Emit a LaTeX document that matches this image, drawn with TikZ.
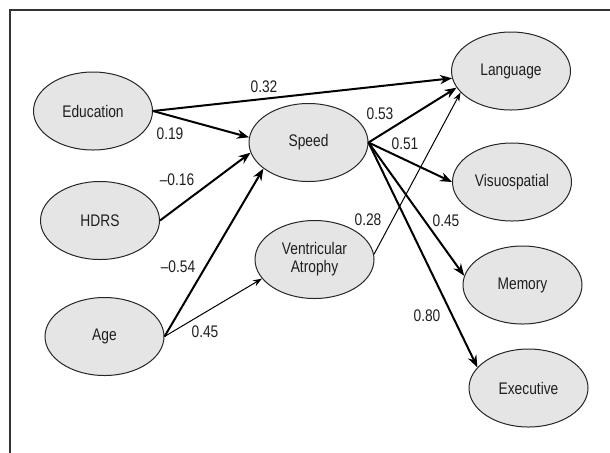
\documentclass[tikz,border=0pt]{standalone}
\usepackage{fontspec}
\setmainfont{Liberation Sans}[FakeStretch=0.82]
\usepackage{tikz}
\usetikzlibrary{shapes,arrows.meta}
\tikzstyle{factor} = [draw=black!85,line width=0.5pt,fill=black!10,ellipse,align=center,
    minimum width=59.5pt,minimum height=39pt,inner sep=0pt]
\tikzstyle{arrow} = [line width=1pt,-{Stealth[length=6pt,width=4.6pt]}]
\tikzstyle{thinarrow} = [line width=0.5pt,-{Stealth[length=4.5pt,width=3.2pt]}]
\tikzstyle{weight} = [inner sep=0pt]

\begin{document}
\begin{tikzpicture}[x=0.5pt,y=-0.5pt,font=\fontsize{8.4}{9}\selectfont,text=black!88]
    \useasboundingbox (0,0) rectangle (610,452);
    \draw[line width=1pt,black!80] (10,470) -- (10,10) -- (630,10);

    % predictors
    \node[factor] (educ) at (93,111) {Education};
    \node[factor] (hdrs) at (100,220.5) {HDRS};
    \node[factor] (age) at (104.5,336.5) {Age};
    % mediators
    \node[factor] (speed) at (308.5,142.5) {Speed};
    \node[factor] (vent) at (314.5,259.5) {Ventricular\\Atrophy};
    % outcomes
    \node[factor] (lang) at (511,71) {Language};
    \node[factor] (visuo) at (512,182) {Visuospatial};
    \node[factor] (memory) at (522.5,285) {Memory};
    \node[factor] (exec) at (528.5,388) {Executive};

    \draw[arrow] (educ.east) -- (lang.187);
    \draw[arrow] (educ.east) -- (speed.175);
    \draw[arrow] (hdrs.east) -- (speed.190);
    \draw[arrow] (age.east) -- (speed.210);
    \draw[thinarrow] (age.east) -- (vent.200);
    \draw[thinarrow] (vent.5) -- (lang.203);
    \draw[arrow] (speed.east) -- (lang.197);
    \draw[arrow] (speed.east) -- (visuo.west);
    \draw[arrow] (speed.east) -- (memory.171);
    \draw[arrow] (speed.east) -- (exec.158);

    % path weights
    \node[weight] (w-el) at (264,87) {0.32};
    \node[weight] (w-es) at (170,134) {0.19};
    \node[weight] (w-hs) at (177,180) {--0.16};
    \node[weight] (w-as) at (178,267) {--0.54};
    \node[weight] (w-av) at (205,332) {0.45};
    \node[weight] (w-vl) at (368,220) {0.28};
    \node[weight] (w-sl) at (380,114) {0.53};
    \node[weight] (w-sv) at (405,144) {0.51};
    \node[weight] (w-sm) at (446,221) {0.45};
    \node[weight] (w-sx) at (427,316) {0.80};
\end{tikzpicture}
\end{document}
